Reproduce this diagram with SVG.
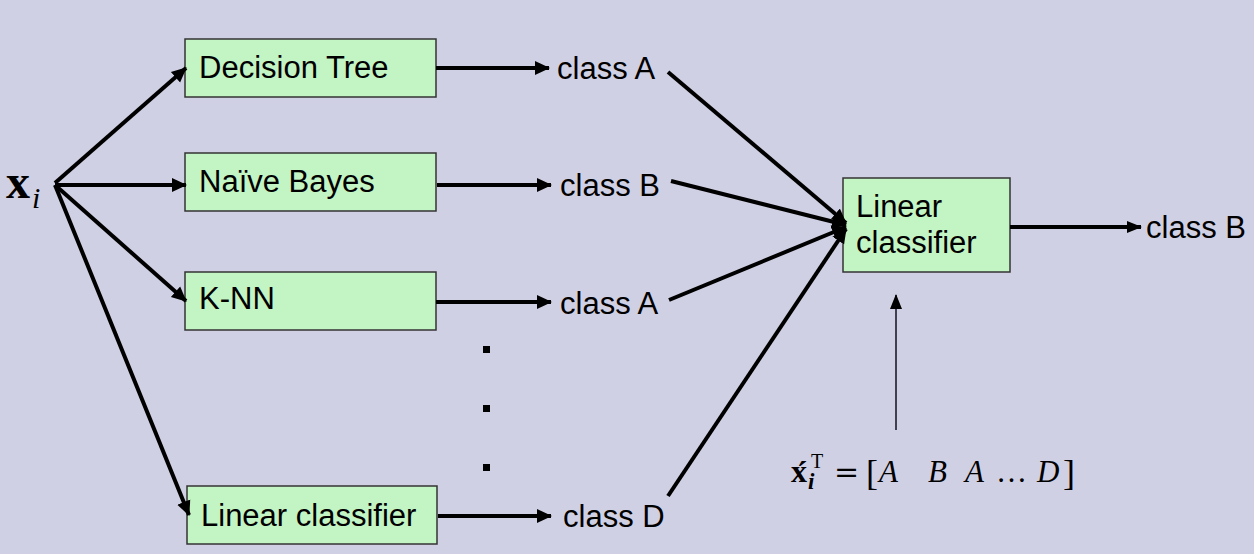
<svg xmlns="http://www.w3.org/2000/svg" width="1254" height="554" viewBox="0 0 1254 554">
<style>
.bg{fill:#D0D0E4}
.box{fill:#C3F4C3;stroke:#333;stroke-width:1.5}
.lbl{font-family:"Liberation Sans",Arial,sans-serif;font-size:31px;fill:#000}
.c{stroke:#000;stroke-width:4;fill:none}
.thin{stroke:#404050;stroke-width:2;fill:none}
.math{font-family:"Liberation Serif","Times New Roman",serif;fill:#000}
.it{font-style:italic;font-size:31px}
</style>
<defs>
<marker id="ah" markerUnits="userSpaceOnUse" markerWidth="16" markerHeight="16" viewBox="0 0 16 16" refX="14" refY="8" orient="auto">
<path d="M0,1 L15,8 L0,15 Z" fill="#000"/>
</marker>
<marker id="ahs" markerUnits="userSpaceOnUse" markerWidth="16" markerHeight="16" viewBox="0 0 16 16" refX="14" refY="8" orient="auto">
<path d="M0,2 L15,8 L0,14 Z" fill="#000"/>
</marker>
</defs>
<rect class="bg" x="0" y="0" width="1254" height="554"/>

<g id="input">
<text class="math" x="6" y="198" font-size="48" font-weight="bold">x</text>
<text class="math" x="32" y="208" font-size="30" font-style="italic">i</text>
</g>

<g id="node-decision-tree">
<rect class="box" x="185" y="39" width="251" height="58"/>
<text class="lbl" x="199" y="78">Decision Tree</text>
</g>
<g id="node-naive-bayes">
<rect class="box" x="185" y="153" width="251" height="58"/>
<text class="lbl" x="199" y="192">Naïve Bayes</text>
</g>
<g id="node-knn">
<rect class="box" x="185" y="272" width="251" height="58"/>
<text class="lbl" x="199" y="309">K-NN</text>
</g>
<g id="node-linear-bottom">
<rect class="box" x="187" y="486" width="250" height="58"/>
<text class="lbl" x="201" y="526">Linear classifier</text>
</g>
<g id="node-linear-right">
<rect class="box" x="843" y="178" width="167" height="94"/>
<text class="lbl" x="856" y="217">Linear</text>
<text class="lbl" x="856" y="253">classifier</text>
</g>

<g id="labels">
<text class="lbl" x="557" y="79">class A</text>
<text class="lbl" x="560" y="196">class B</text>
<text class="lbl" x="560" y="314">class A</text>
<text class="lbl" x="563" y="527">class D</text>
<text class="lbl" x="1146" y="238">class B</text>
</g>

<g id="dots" fill="#000">
<rect x="483" y="346" width="7" height="7"/>
<rect x="483" y="405" width="7" height="7"/>
<rect x="483" y="464" width="7" height="7"/>
</g>

<g id="formula" class="math">
<text x="791" y="482" font-size="32" font-weight="bold">x́</text>
<text x="808" y="489" font-size="23" font-weight="bold" font-style="italic">i</text>
<text x="811" y="468" font-size="20">T</text>
<text x="834" y="482" font-size="30" font-family="DejaVu Serif">=</text>
<text x="866" y="485" font-size="36">[</text>
<text class="it" x="879" y="482">A</text>
<text class="it" x="928" y="482">B</text>
<text class="it" x="965" y="482">A</text>
<text x="996" y="482" font-size="31">…</text>
<text class="it" x="1037" y="482">D</text>
<text x="1063" y="485" font-size="36">]</text>
</g>

<g id="connectors">
<line class="c" x1="55" y1="183" x2="186" y2="68" marker-end="url(#ah)"/>
<line class="c" x1="55" y1="185" x2="186" y2="185" marker-end="url(#ah)"/>
<line class="c" x1="55" y1="185" x2="186" y2="301" marker-end="url(#ah)"/>
<line class="c" x1="55" y1="185" x2="189" y2="515" marker-end="url(#ah)"/>
<line class="c" x1="436" y1="68" x2="549" y2="68" marker-end="url(#ah)"/>
<line class="c" x1="437" y1="185" x2="551" y2="185" marker-end="url(#ah)"/>
<line class="c" x1="436" y1="302" x2="551" y2="302" marker-end="url(#ah)"/>
<line class="c" x1="438" y1="516" x2="551" y2="516" marker-end="url(#ah)"/>
<line class="c" x1="668" y1="72" x2="846" y2="223" marker-end="url(#ah)"/>
<line class="c" x1="671" y1="181" x2="846" y2="225" marker-end="url(#ah)"/>
<line class="c" x1="669" y1="300" x2="846" y2="227" marker-end="url(#ah)"/>
<line class="c" x1="668" y1="496" x2="846" y2="229" marker-end="url(#ah)"/>
<line class="c" x1="1010" y1="227" x2="1141" y2="227" marker-end="url(#ahs)"/>
<line class="thin" x1="896" y1="430" x2="896" y2="295" marker-end="url(#ahs)"/>
</g>
</svg>
